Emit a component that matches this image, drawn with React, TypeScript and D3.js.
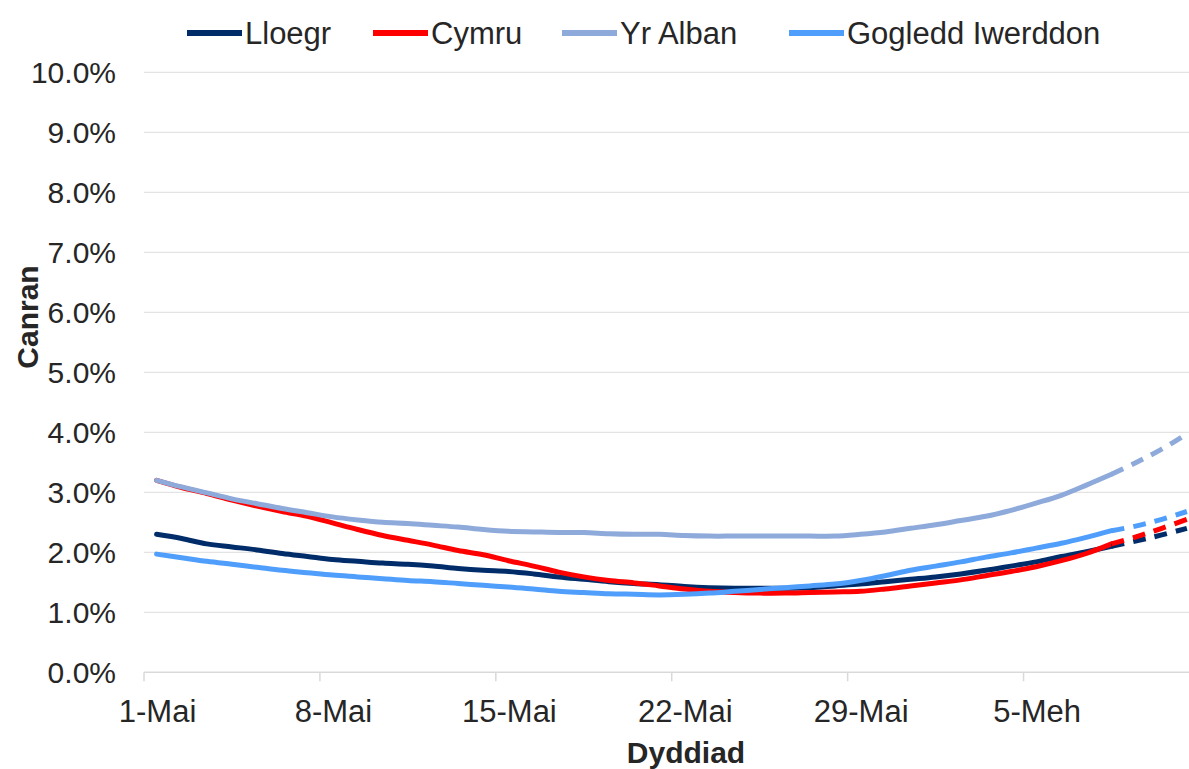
import { useEffect, useRef } from 'react';
import * as d3 from 'd3';

// Day 0 = 1 May, one value per day through 11 June (percent)
const lloegr = [
  2.30, 2.23, 2.14, 2.09, 2.04, 1.98, 1.93, 1.88, 1.85, 1.82,
  1.80, 1.77, 1.73, 1.70, 1.68, 1.64, 1.59, 1.55, 1.51, 1.48,
  1.46, 1.43, 1.41, 1.40, 1.40, 1.40, 1.41, 1.44, 1.47, 1.51,
  1.55, 1.59, 1.64, 1.70, 1.77, 1.84, 1.93, 2.01, 2.10, 2.19,
  2.29, 2.40,
];
const cymru = [
  3.20, 3.08, 2.98, 2.87, 2.77, 2.68, 2.60, 2.49, 2.38, 2.28,
  2.20, 2.12, 2.03, 1.96, 1.86, 1.77, 1.67, 1.59, 1.53, 1.49,
  1.44, 1.39, 1.35, 1.33, 1.32, 1.32, 1.33, 1.34, 1.35, 1.39,
  1.44, 1.49, 1.54, 1.61, 1.68, 1.76, 1.86, 1.98, 2.14, 2.26,
  2.40, 2.55,
];
const yrAlban = [
  3.20, 3.09, 2.99, 2.89, 2.81, 2.73, 2.66, 2.59, 2.54, 2.50,
  2.48, 2.45, 2.42, 2.38, 2.35, 2.34, 2.33, 2.33, 2.31, 2.30,
  2.30, 2.28, 2.27, 2.27, 2.27, 2.27, 2.27, 2.27, 2.30, 2.34,
  2.40, 2.46, 2.53, 2.60, 2.70, 2.82, 2.95, 3.12, 3.30, 3.50,
  3.72, 3.97,
];
const gogleddIwerddon = [
  1.97, 1.91, 1.85, 1.80, 1.75, 1.70, 1.66, 1.62, 1.59, 1.56,
  1.53, 1.51, 1.48, 1.45, 1.42, 1.39, 1.35, 1.33, 1.31, 1.30,
  1.29, 1.30, 1.32, 1.35, 1.38, 1.41, 1.44, 1.47, 1.53, 1.61,
  1.70, 1.77, 1.84, 1.92, 1.99, 2.07, 2.15, 2.25, 2.36, 2.44,
  2.55, 2.68,
];

const seriesNames = ['Lloegr', 'Cymru', 'Yr Alban', 'Gogledd Iwerddon'];
const seriesColors = ['#002d6a', '#ff0000', '#8eaadb', '#4f9efc'];
const seriesValues = [lloegr, cymru, yrAlban, gogleddIwerddon];

// first day that belongs to the dashed (projected) part
const projectionStart = 38;

const tickDays = [0, 7, 14, 21, 28, 35];
const tickLabels = ['1-Mai', '8-Mai', '15-Mai', '22-Mai', '29-Mai', '5-Meh'];
const yTicks = [0, 1, 2, 3, 4, 5, 6, 7, 8, 9, 10];

const W = 1189;
const H = 769;
const FONT = '"Liberation Sans", Arial, Helvetica, sans-serif';

const Chart = () => {
  const svgRef = useRef<SVGSVGElement>(null);

  useEffect(() => {
    if (!svgRef.current) return;
    const svg = d3.select(svgRef.current);
    svg.selectAll('*').remove();

    const nDays = lloegr.length;
    const dayWidth = 25.13;
    const left = 144;

    const x = d3.scaleLinear()
      .domain([-0.5, nDays - 0.5])
      .range([left, left + nDays * dayWidth]);
    const y = d3.scaleLinear()
      .domain([0, 10])
      .range([672.3, 72.3]);

    // gridlines
    svg.append('g')
      .selectAll('line')
      .data(yTicks.slice(1))
      .enter()
      .append('line')
      .attr('x1', left)
      .attr('x2', W)
      .attr('y1', d => y(d))
      .attr('y2', d => y(d))
      .attr('stroke', '#e3e3e3')
      .attr('stroke-width', 1.3);

    // x axis line + tick marks at week boundaries
    svg.append('line')
      .attr('x1', left)
      .attr('x2', W)
      .attr('y1', y(0))
      .attr('y2', y(0))
      .attr('stroke', '#d9d9d9')
      .attr('stroke-width', 1.5);

    svg.append('g')
      .selectAll('line')
      .data(tickDays)
      .enter()
      .append('line')
      .attr('x1', d => x(d - 0.5))
      .attr('x2', d => x(d - 0.5))
      .attr('y1', y(0))
      .attr('y2', y(0) + 9)
      .attr('stroke', '#d9d9d9')
      .attr('stroke-width', 1.5);

    // y tick labels
    svg.append('g')
      .selectAll('text')
      .data(yTicks)
      .enter()
      .append('text')
      .attr('x', 116)
      .attr('y', d => y(d))
      .attr('dy', '0.36em')
      .attr('text-anchor', 'end')
      .attr('font-family', FONT)
      .attr('font-size', 30)
      .attr('fill', '#262626')
      .text(d => d3.format('.1f')(d) + '%');

    // x tick labels
    svg.append('g')
      .selectAll('text')
      .data(tickDays)
      .enter()
      .append('text')
      .attr('x', d => x(d) + 1)
      .attr('y', 722)
      .attr('text-anchor', 'middle')
      .attr('font-family', FONT)
      .attr('font-size', 31)
      .attr('fill', '#262626')
      .text((_, i) => tickLabels[i]);

    // axis titles
    svg.append('text')
      .attr('transform', 'translate(38, 317) rotate(-90)')
      .attr('text-anchor', 'middle')
      .attr('font-family', FONT)
      .attr('font-size', 30)
      .attr('font-weight', 'bold')
      .attr('fill', '#262626')
      .text('Canran');

    svg.append('text')
      .attr('x', 686)
      .attr('y', 763)
      .attr('text-anchor', 'middle')
      .attr('font-family', FONT)
      .attr('font-size', 30)
      .attr('font-weight', 'bold')
      .attr('fill', '#262626')
      .text('Dyddiad');

    // series lines
    const line = d3.line<number>()
      .x((_, i) => x(i))
      .y(d => y(d))
      .curve(d3.curveCatmullRom.alpha(0.5));

    const dashedLine = d3.line<number>()
      .x((_, i) => x(i + projectionStart))
      .y(d => y(d))
      .curve(d3.curveCatmullRom.alpha(0.5));

    const lines = svg.append('g');
    seriesValues.forEach((vals, s) => {
      lines.append('path')
        .attr('d', line(vals.slice(0, projectionStart + 1)) || '')
        .attr('fill', 'none')
        .attr('stroke', seriesColors[s])
        .attr('stroke-width', 5)
        .attr('stroke-linejoin', 'round')
        .attr('stroke-linecap', 'round');
    });
    seriesValues.forEach((vals, s) => {
      lines.append('path')
        .attr('d', dashedLine(vals.slice(projectionStart)) || '')
        .attr('fill', 'none')
        .attr('stroke', seriesColors[s])
        .attr('stroke-width', 5)
        .attr('stroke-dasharray', '13,9');
    });

    // legend
    const legendX = [187, 373, 562, 789];
    const legend = svg.append('g')
      .selectAll('g')
      .data(seriesNames)
      .enter()
      .append('g')
      .attr('transform', (_, i) => `translate(${legendX[i]}, 33)`);
    legend.append('line')
      .attr('x1', 0)
      .attr('x2', 55)
      .attr('stroke', (_, i) => seriesColors[i])
      .attr('stroke-width', 6);
    legend.append('text')
      .attr('x', 58)
      .attr('y', 11)
      .attr('font-family', FONT)
      .attr('font-size', 31)
      .attr('fill', '#262626')
      .text(d => d);
  }, []);

  return (
    <div style={{ position: 'absolute', left: 0, top: 0 }}>
      <svg ref={svgRef} width={W} height={H} style={{ display: 'block', background: '#fff' }}></svg>
    </div>
  );
};

export default function App() {
  return <Chart />;
}
